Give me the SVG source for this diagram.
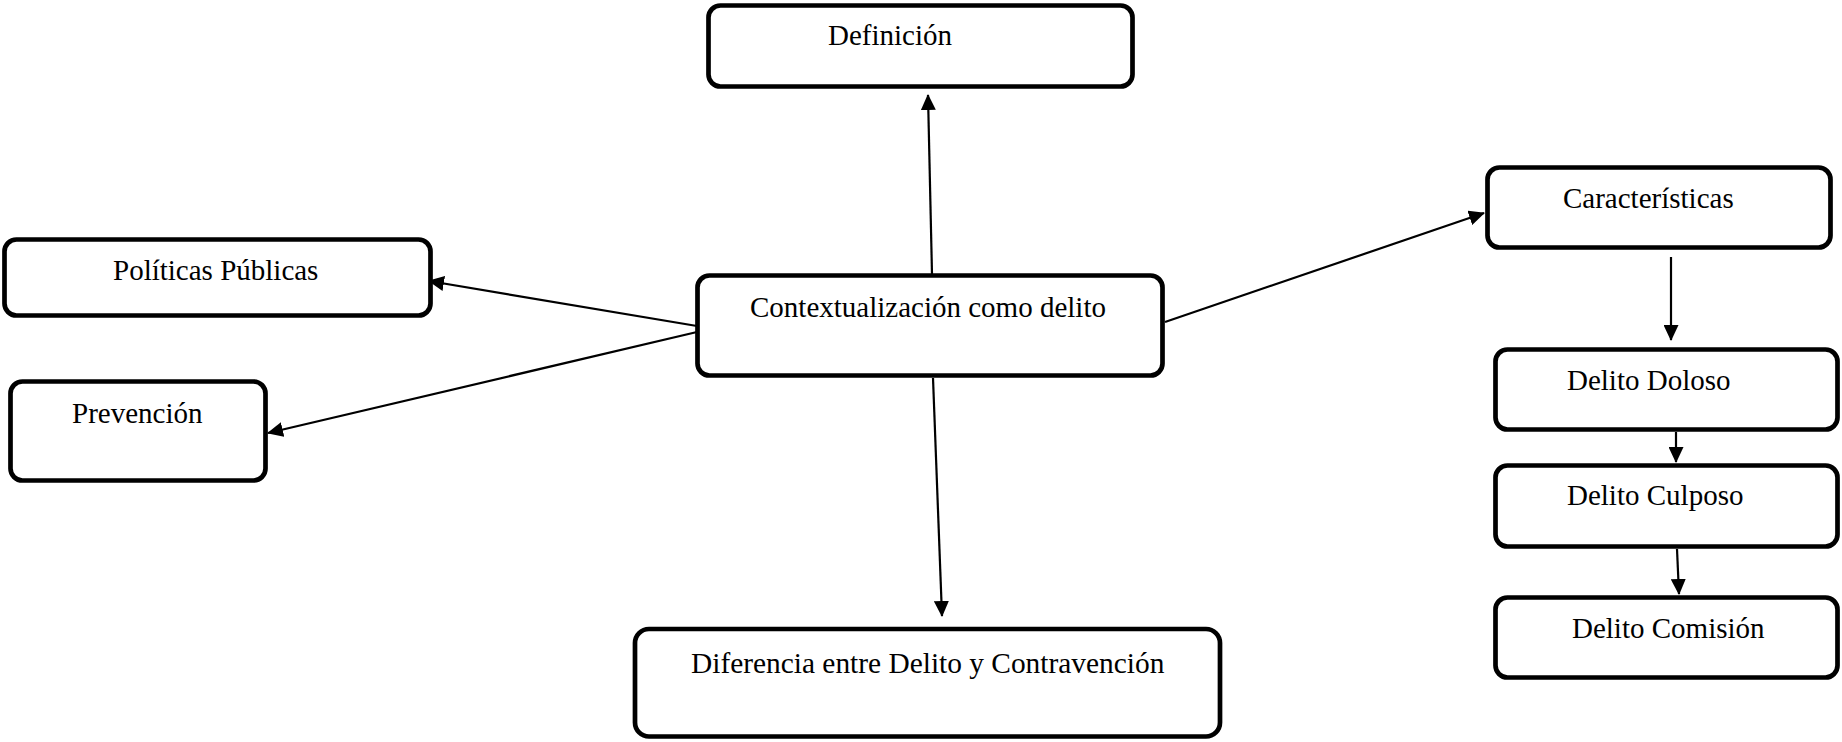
<svg xmlns="http://www.w3.org/2000/svg" width="1842" height="742" viewBox="0 0 1842 742">
<style>
.box{fill:#fff;stroke:#000;stroke-width:4.7}
.lbl{font-family:"Liberation Serif","Times New Roman",serif;font-size:29px;fill:#000}
.con{stroke:#000;stroke-width:2.2;fill:none;marker-end:url(#ah)}
</style>
<defs>
<marker id="ah" markerUnits="userSpaceOnUse" markerWidth="16" markerHeight="15" refX="15" refY="7.5" orient="auto">
<path d="M0,0 L16,7.5 L0,15 Z" fill="#000"/>
</marker>
</defs>
<rect width="1842" height="742" fill="#fff"/>
<g id="connectors">
<line class="con" x1="932" y1="274" x2="928" y2="95"/>
<line class="con" x1="697" y1="326" x2="429" y2="281"/>
<line class="con" x1="697" y1="332" x2="268" y2="433"/>
<line class="con" x1="933" y1="378" x2="942" y2="616"/>
<line class="con" x1="1165" y1="322" x2="1484" y2="213"/>
<line class="con" x1="1671" y1="257" x2="1671" y2="340"/>
<line class="con" x1="1676" y1="432" x2="1676" y2="462"/>
<line class="con" x1="1677" y1="549" x2="1679" y2="594"/>
</g>
<g id="n-definicion">
<rect class="box" x="708.5" y="5.5" width="424" height="81" rx="12"/>
<text class="lbl" x="828" y="45">Definición</text>
</g>
<g id="n-contextualizacion">
<rect class="box" x="697.5" y="275.5" width="465" height="100" rx="12"/>
<text class="lbl" x="750" y="317">Contextualización como delito</text>
</g>
<g id="n-politicas">
<rect class="box" x="4.5" y="239.5" width="426" height="76" rx="12"/>
<text class="lbl" x="113" y="280">Políticas Públicas</text>
</g>
<g id="n-prevencion">
<rect class="box" x="10.5" y="381.5" width="255" height="99" rx="12"/>
<text class="lbl" x="72" y="423">Prevención</text>
</g>
<g id="n-diferencia">
<rect class="box" x="635" y="629" width="585" height="107.5" rx="14"/>
<text class="lbl" x="691" y="673" style="font-size:29.4px">Diferencia entre Delito y Contravención</text>
</g>
<g id="n-caracteristicas">
<rect class="box" x="1487.5" y="167.5" width="343" height="80" rx="12"/>
<text class="lbl" x="1563" y="208">Características</text>
</g>
<g id="n-doloso">
<rect class="box" x="1495.5" y="349.5" width="342" height="80" rx="12"/>
<text class="lbl" x="1567" y="390">Delito Doloso</text>
</g>
<g id="n-culposo">
<rect class="box" x="1495.5" y="465.5" width="342" height="81" rx="12"/>
<text class="lbl" x="1567" y="505">Delito Culposo</text>
</g>
<g id="n-comision">
<rect class="box" x="1495.5" y="597.5" width="342" height="80" rx="12"/>
<text class="lbl" x="1572" y="638">Delito Comisión</text>
</g>
</svg>
